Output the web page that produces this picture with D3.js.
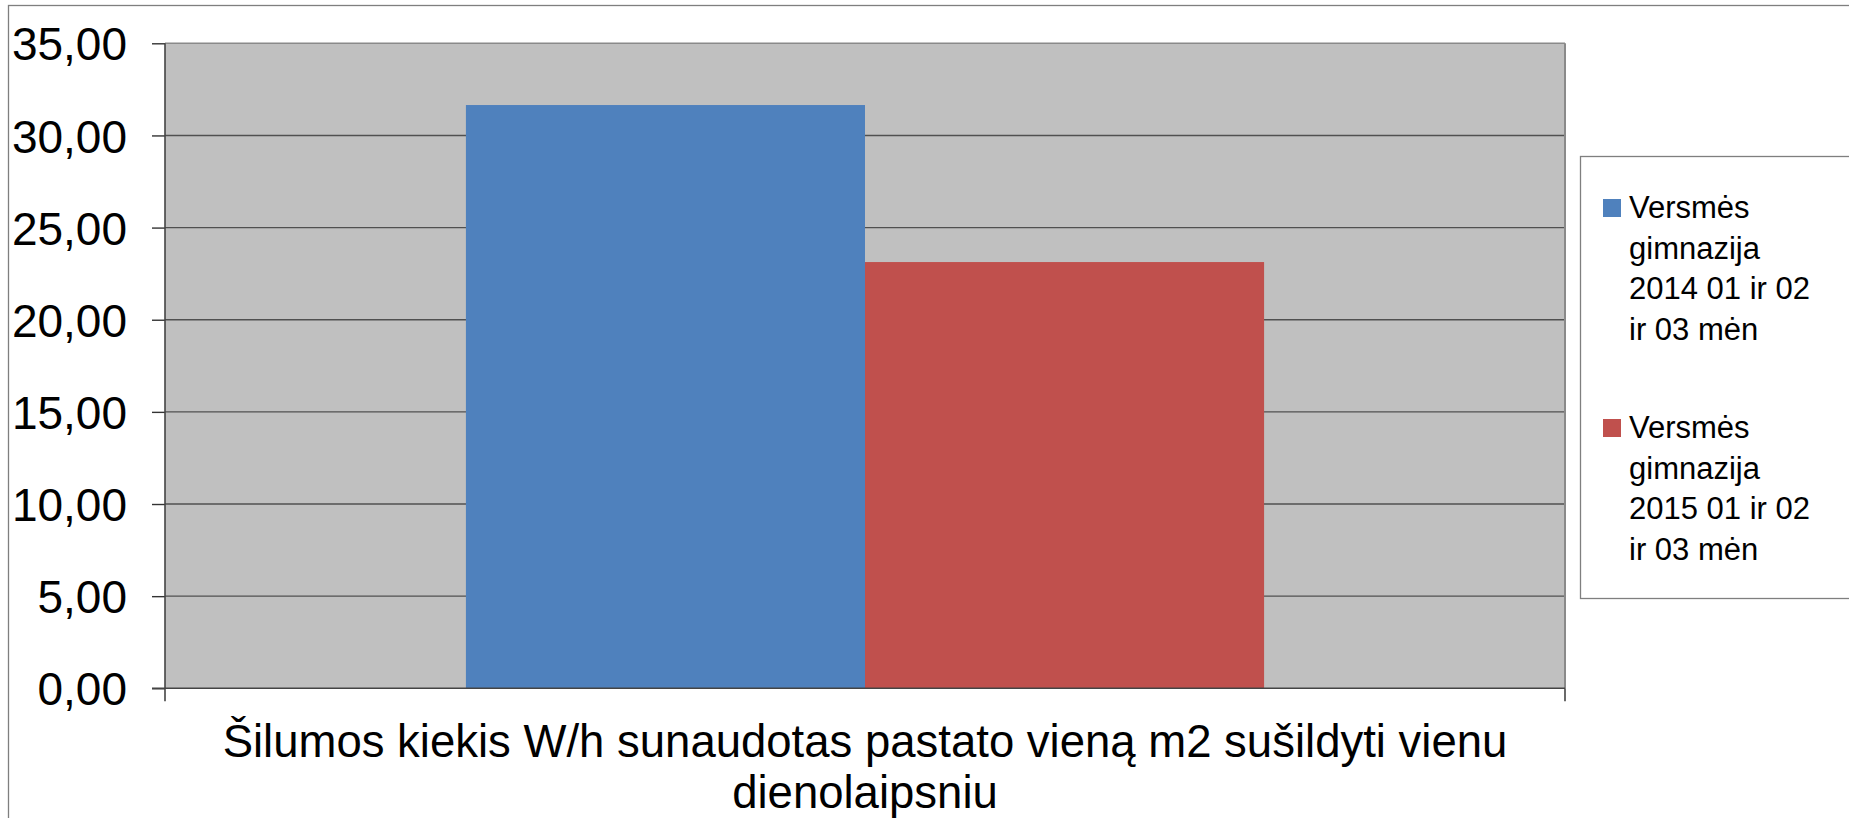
<!DOCTYPE html>
<html><head><meta charset="utf-8">
<script src="https://cdn.jsdelivr.net/npm/d3@7"></script>
<style>html,body{margin:0;padding:0;background:#fff;overflow:hidden}svg{display:block;font-family:"Liberation Sans",Arial,sans-serif}</style>
</head><body>
<svg id="c" width="1849" height="818"></svg>
<script>
const categories = ["Šilumos kiekis W/h sunaudotas pastato vieną m2 sušildyti vienu dienolaipsniu"];
const categoryLines = ["Šilumos kiekis W/h sunaudotas pastato vieną m2 sušildyti vienu", "dienolaipsniu"];
const seriesNames = ["Versmės gimnazija 2014 01 ir 02 ir 03 mėn", "Versmės gimnazija 2015 01 ir 02 ir 03 mėn"];
const seriesLegendLines = [["Versmės","gimnazija","2014 01 ir 02","ir 03 mėn"],["Versmės","gimnazija","2015 01 ir 02","ir 03 mėn"]];
const values2014 = [31.65];
const values2015 = [23.13];
const yTicks = [0,5,10,15,20,25,30,35];
const colors = ["#4f81bd", "#c0504d"];

const svg = d3.select("#c");
const L = 165, R = 1565, T = 43.3, B = 688.3;

// outer chart border
svg.append("rect").attr("x",8.5).attr("y",5.5).attr("width",1900).attr("height",900)
  .attr("fill","#fff").attr("stroke","#7f7f7f").attr("stroke-width",1.3);

const y = d3.scaleLinear().domain([0,35]).range([B,T]);
const x0 = d3.scaleBand().domain(categories).range([L,R]).paddingInner(0).paddingOuter(0.377);
const x1 = d3.scaleBand().domain([0,1]).range([0,x0.bandwidth()]);

svg.append("rect").attr("x",L).attr("y",T).attr("width",R-L).attr("height",B-T)
  .attr("fill","#c0c0c0");

// gridlines
svg.append("g").selectAll("line").data(yTicks.filter(d=>d>0)).join("line")
  .attr("x1",L).attr("x2",R).attr("y1",d=>y(d)).attr("y2",d=>y(d))
  .attr("stroke",d=>d===35?"#8a8a8a":"#505050").attr("stroke-width",1.4);

// right border
svg.append("line").attr("x1",R).attr("x2",R).attr("y1",T).attr("y2",B)
  .attr("stroke","#8a8a8a").attr("stroke-width",2);

// bars
const data = categories.map((c,i)=>({c, v:[values2014[i], values2015[i]]}));
svg.append("g").selectAll("g").data(data).join("g")
  .attr("transform",d=>`translate(${x0(d.c)},0)`)
  .selectAll("rect").data(d=>d.v.map((v,k)=>({v,k}))).join("rect")
  .attr("x",d=>x1(d.k)).attr("width",x1.bandwidth())
  .attr("y",d=>y(d.v)).attr("height",d=>B-y(d.v))
  .attr("fill",d=>colors[d.k]);

// y axis
const yAxis = d3.axisLeft(y).tickValues(yTicks).tickSize(13).tickPadding(25)
  .tickFormat(d=>d3.format(".2f")(d).replace(".",","));
const ga = svg.append("g").attr("transform",`translate(${L},0)`).call(yAxis);
ga.select(".domain").remove();
ga.selectAll(".tick line").attr("stroke","#333").attr("stroke-width",1.4);
ga.selectAll(".tick text").attr("font-size",46).attr("fill","#000").attr("dy","0.36em");
svg.append("line").attr("x1",L).attr("x2",L).attr("y1",T).attr("y2",B+13)
  .attr("stroke","#444").attr("stroke-width",1.6);
// x axis baseline
svg.append("line").attr("x1",L-13).attr("x2",R).attr("y1",B).attr("y2",B)
  .attr("stroke","#444").attr("stroke-width",1.6);
svg.append("line").attr("x1",R).attr("x2",R).attr("y1",B).attr("y2",B+13)
  .attr("stroke","#444").attr("stroke-width",1.6);

// category label
const cx = x0(categories[0]) + x0.bandwidth()/2;
svg.append("text").attr("x",cx).attr("y",757).attr("text-anchor","middle")
  .attr("font-size",45.5).attr("fill","#000")
  .selectAll("tspan").data(categoryLines).join("tspan")
  .attr("x",cx).attr("dy",(d,i)=>i?51:0).text(d=>d);

// legend
svg.append("rect").attr("x",1580.5).attr("y",156.5).attr("width",300).attr("height",442)
  .attr("fill","#fff").attr("stroke","#7f7f7f").attr("stroke-width",1.3);
const lg = svg.append("g").selectAll("g").data(seriesNames).join("g")
  .attr("transform",(d,i)=>`translate(1603,${199+i*220})`);
lg.append("rect").attr("width",18).attr("height",18).attr("fill",(d,i)=>colors[i]);
lg.append("text").attr("x",26).attr("y",19).attr("font-size",31).attr("fill","#000")
  .selectAll("tspan").data((d,i)=>seriesLegendLines[i]).join("tspan")
  .attr("x",26).attr("dy",(d,i)=>i?40.5:0).text(d=>d);
</script>
</body></html>
